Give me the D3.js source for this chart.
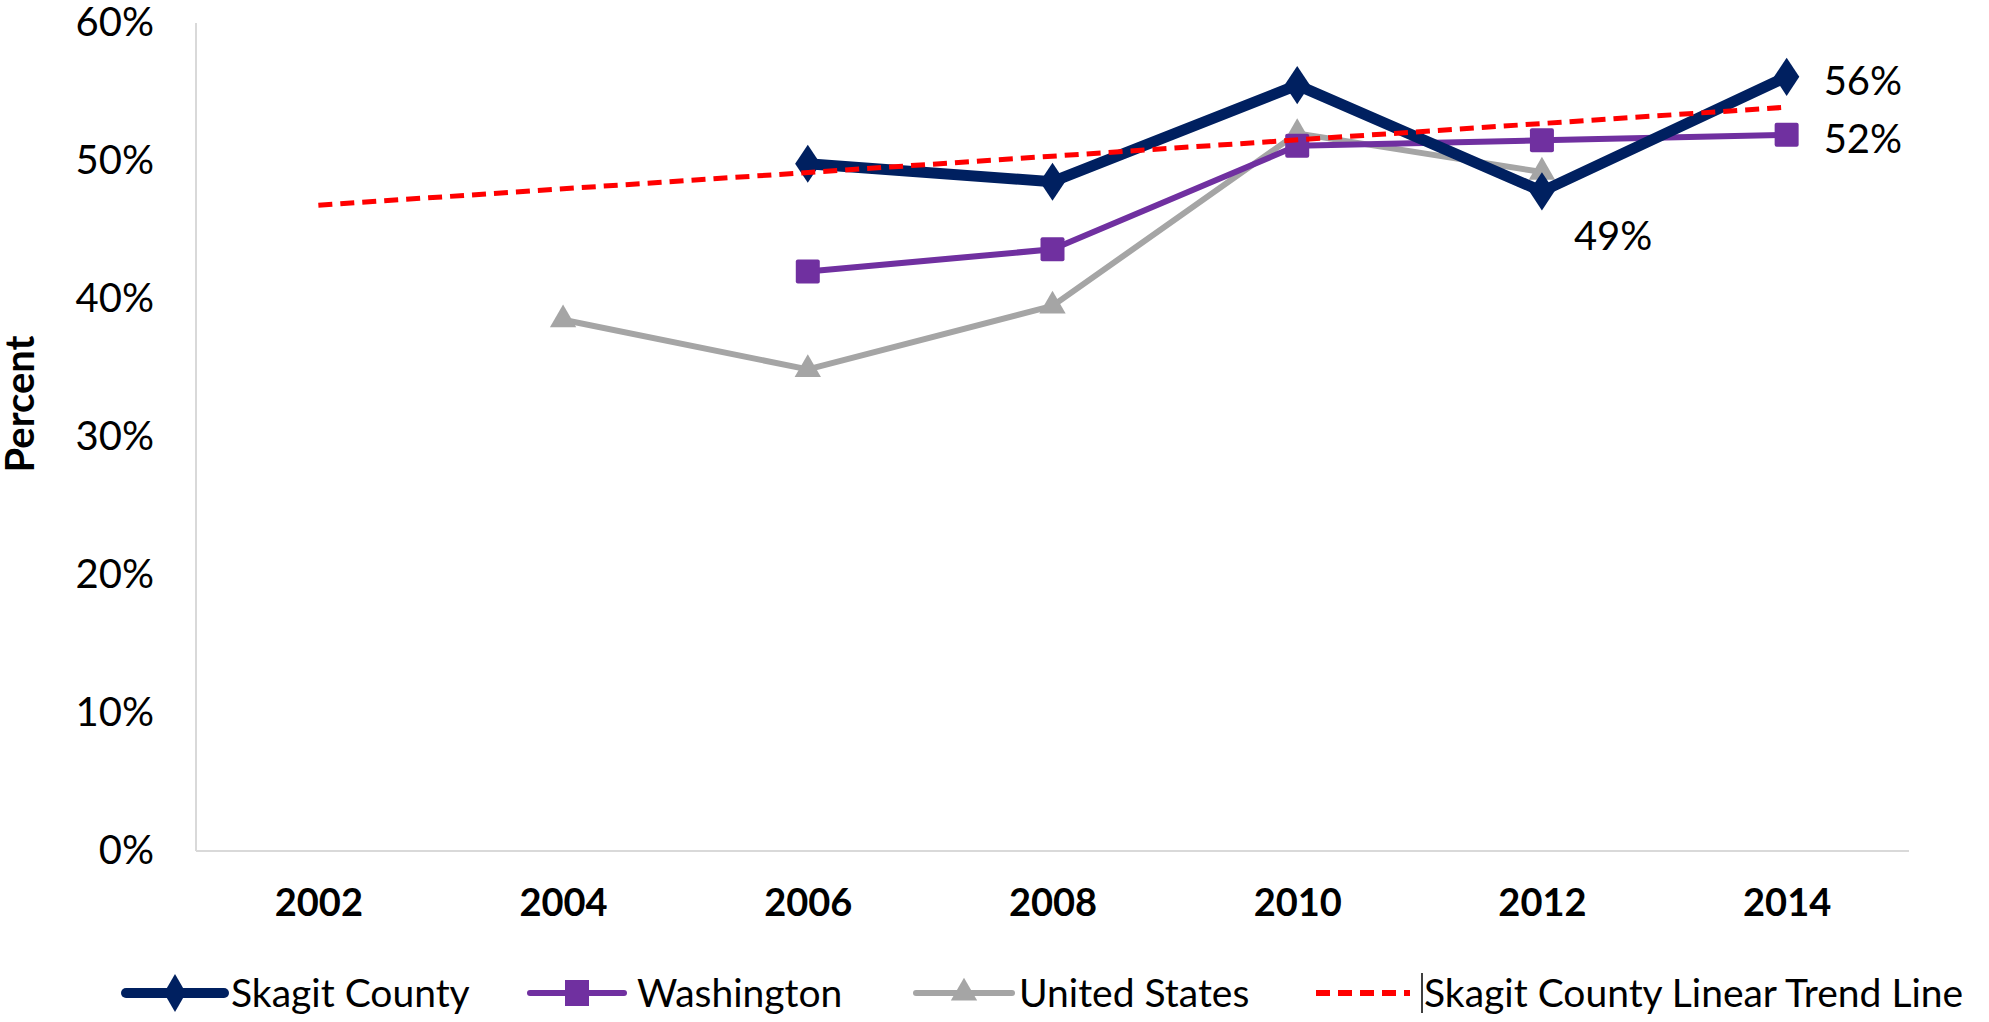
<!DOCTYPE html>
<html><head><meta charset="utf-8">
<script src="https://cdn.jsdelivr.net/npm/d3@7"></script>
<style>body{margin:0;background:#fff;}svg{display:block;font-family:Lato,"Open Sans",sans-serif;}</style>
</head><body>
<svg id="c" width="1989" height="1022"></svg>
<script>
const years = ["2002","2004","2006","2008","2010","2012","2014"];
const skagit = [null,null,49.8,48.5,55.5,47.8,56.1];
const washington = [null,null,42.0,43.6,51.1,51.5,51.9];
const unitedStates = [null,38.5,34.9,39.5,52.0,49.2,null];
const trendYears = ["2002","2014"];
const trendValues = [46.8,53.9];
const yTicks = [0,10,20,30,40,50,60];
const labels = [
  {year:"2014", v:56.1, text:"56%", dx:37, dy:4},
  {year:"2014", v:51.9, text:"52%", dx:37, dy:4},
  {year:"2012", v:49.2, text:"49%", dx:32, dy:64}
];
const seriesNames = ["Skagit County","Washington","United States","Skagit County Linear Trend Line"];

const svg = d3.select("#c");
const L=196, R=1909, T=23, B=851;
const x = d3.scalePoint().domain(years).range([L,R]).padding(0.5);
const y = d3.scaleLinear().domain([0,60]).range([B,T]);

// axes
svg.append("line").attr("x1",L).attr("x2",L).attr("y1",T).attr("y2",B).attr("stroke","#d9d9d9").attr("stroke-width",2);
svg.append("line").attr("x1",L).attr("x2",R).attr("y1",B).attr("y2",B).attr("stroke","#d9d9d9").attr("stroke-width",2);
const yAxis = d3.axisLeft(y).tickValues(yTicks).tickFormat(d=>d+"%").tickSize(0).tickPadding(42);
const gy = svg.append("g").attr("transform",`translate(${L},0)`).call(yAxis);
gy.select(".domain").remove();
gy.selectAll("text").attr("font-size",40).attr("fill","#000").attr("font-family","Lato");
const xAxis = d3.axisBottom(x).tickSize(0).tickPadding(38);
const gx = svg.append("g").attr("transform",`translate(0,${B})`).call(xAxis);
gx.select(".domain").remove();
gx.selectAll("text").attr("font-size",38).attr("font-weight","bold").attr("fill","#000").attr("font-family","Lato");

svg.append("text").attr("transform","translate(34,404) rotate(-90)").attr("text-anchor","middle")
  .attr("font-size",40).attr("font-weight","bold").text("Percent");

function pts(arr){return years.map((yr,i)=>({yr,v:arr[i]})).filter(d=>d.v!=null);}
const line = d3.line().x(d=>x(d.yr)).y(d=>y(d.v));

// US
const us = pts(unitedStates);
svg.append("path").datum(us).attr("d",line).attr("fill","none").attr("stroke","#a5a5a5").attr("stroke-width",6).attr("stroke-linejoin","round");
const tri = d3.symbol().type(d3.symbolTriangle).size(300);
svg.selectAll(".tri").data(us).join("path").attr("d",tri).attr("fill","#a5a5a5")
  .attr("transform",d=>`translate(${x(d.yr)},${y(d.v)})`);

// Washington
const wa = pts(washington);
svg.append("path").datum(wa).attr("d",line).attr("fill","none").attr("stroke","#7030a0").attr("stroke-width",6).attr("stroke-linejoin","round");
svg.selectAll(".sq").data(wa).join("rect").attr("x",d=>x(d.yr)-12).attr("y",d=>y(d.v)-12).attr("width",24).attr("height",24).attr("rx",2).attr("fill","#7030a0");

// Skagit
const sk = pts(skagit);
svg.append("path").datum(sk).attr("d",line).attr("fill","none").attr("stroke","#002060").attr("stroke-width",11).attr("stroke-linejoin","round");
const dia = d3.symbol().type(d3.symbolDiamond).size(420);
svg.selectAll(".dia").data(sk).join("path").attr("d",dia).attr("fill","#002060")
  .attr("transform",d=>`translate(${x(d.yr)},${y(d.v)}) scale(1.15,1.0)`);

// Trend
const tr = trendYears.map((yr,i)=>({yr,v:trendValues[i]}));
svg.append("path").datum(tr).attr("d",line).attr("fill","none").attr("stroke","#ff0000").attr("stroke-width",5).attr("stroke-dasharray","14,8");

// labels
svg.selectAll(".lbl").data(labels).join("text").attr("x",d=>x(d.year)+d.dx).attr("y",d=>y(d.v)+d.dy)
  .attr("dy","0.35em").attr("font-size",40).attr("fill","#000").text(d=>d.text);

// legend
const ly = 993;
const lg = svg.append("g");
function legLine(x1,x2,color,w,dash){
  lg.append("line").attr("x1",x1).attr("x2",x2).attr("y1",ly).attr("y2",ly).attr("stroke",color).attr("stroke-width",w).attr("stroke-linecap",dash?"butt":"round").attr("stroke-dasharray",dash||null);
}
legLine(126,224,"#002060",10);
lg.append("path").attr("d",dia).attr("fill","#002060").attr("transform",`translate(175,${ly}) scale(1.0,1.0)`);
legLine(530,624,"#7030a0",6);
lg.append("rect").attr("x",565).attr("y",ly-13).attr("width",24).attr("height",26).attr("fill","#7030a0");
legLine(916,1012,"#a5a5a5",6);
lg.append("path").attr("d",tri).attr("fill","#a5a5a5").attr("transform",`translate(964,${ly})`);
legLine(1316,1410,"#ff0000",6,"14,8");
lg.append("line").attr("x1",1422).attr("x2",1422).attr("y1",ly-20).attr("y2",ly+20).attr("stroke","#000").attr("stroke-width",1.5);
const lx = [231,637,1019,1424];
lg.selectAll(".lt").data(seriesNames).join("text").attr("x",(d,i)=>lx[i]).attr("y",ly).attr("dy","0.35em")
  .attr("font-size",39).attr("fill","#000").text(d=>d);
</script>
</body></html>
